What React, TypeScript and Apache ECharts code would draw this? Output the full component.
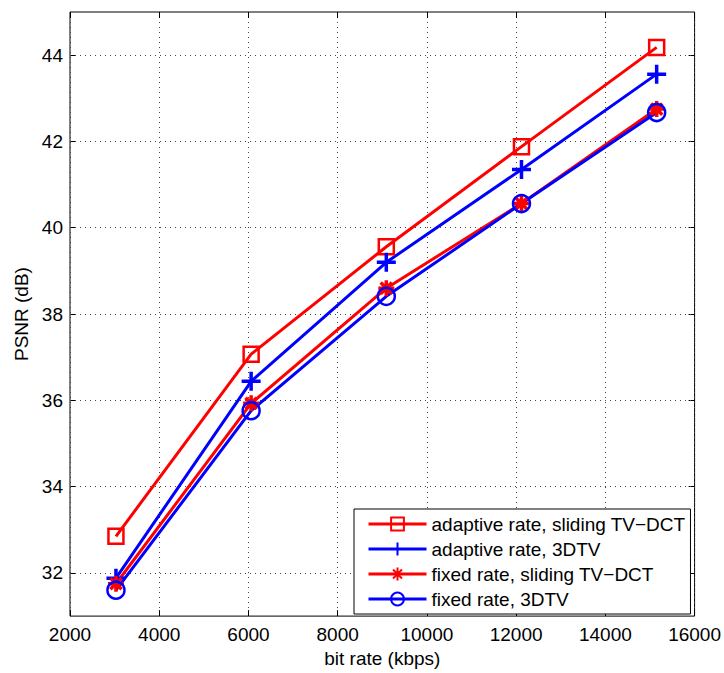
import React, { useEffect, useRef } from "react";
import * as echarts from "echarts";

const bitRates = [3030, 6060, 9090, 12120, 15150];
const adaptiveSliding = [32.85, 37.07, 39.56, 41.88, 44.18];
const adaptive3DTV = [31.88, 36.44, 39.2, 41.35, 43.56];
const fixedSliding = [31.75, 35.93, 38.6, 40.56, 42.75];
const fixed3DTV = [31.6, 35.76, 38.41, 40.56, 42.67];
const seriesNames = [
  "adaptive rate, sliding TV\u2212DCT",
  "adaptive rate, 3DTV",
  "fixed rate, sliding TV\u2212DCT",
  "fixed rate, 3DTV",
];
const yTicks = [32, 34, 36, 38, 40, 42, 44];

const PLUS = "path://M5,0L5,10M0,5L10,5";
const STAR = "path://M5,0L5,10M0,5L10,5M1.5,1.5L8.5,8.5M8.5,1.5L1.5,8.5";
const FONT = "Liberation Sans, Arial, Helvetica, sans-serif";

export default function App() {
  const ref = useRef<HTMLDivElement>(null);
  useEffect(() => {
    if (!ref.current) return;
    const chart = echarts.init(ref.current, null, { renderer: "svg" });
    const pair = (ys: number[]) => bitRates.map((x, i) => [x, ys[i]]);
    const mk = (
      name: string,
      ys: number[],
      color: string,
      symbol: string,
      size: number,
      bw: number
    ) => ({
      name,
      type: "line",
      data: pair(ys),
      symbol,
      symbolSize: size,
      showAllSymbol: true,
      lineStyle: { color, width: 3 },
      itemStyle: { color: "transparent", borderColor: color, borderWidth: bw },
      emphasis: { disabled: true },
      z: 3,
    });
    const axisTickStyle = { inside: true, length: 6, lineStyle: { color: "#000", width: 1 } };
    const labelStyle = { color: "#000", fontSize: 19, fontFamily: FONT };
    const series: any[] = [
      mk(seriesNames[0], adaptiveSliding, "#ff0000", "rect", 15, 2.5),
      mk(seriesNames[1], adaptive3DTV, "#0000ff", PLUS, 19, 3.5),
      mk(seriesNames[2], fixedSliding, "#ff0000", STAR, 16, 3.5),
      mk(seriesNames[3], fixed3DTV, "#0000ff", "circle", 17, 2.5),
    ];
    series[0].markLine = {
      silent: true,
      symbol: ["none", "none"],
      label: { show: false },
      lineStyle: { color: "#444", type: [1, 4], width: 1 },
      data: yTicks.map((v) => ({ yAxis: v })),
      z: 1,
    };
    chart.setOption({
      animation: false,
      backgroundColor: "#fff",
      grid: {
        left: 70,
        right: 27,
        top: 12,
        bottom: 54,
        show: true,
        borderColor: "#000",
        borderWidth: 1,
        backgroundColor: "transparent",
      },
      legend: {
        show: true,
        orient: "vertical",
        left: 354,
        top: 509,
        backgroundColor: "#fff",
        borderColor: "#000",
        borderWidth: 1,
        padding: [5, 5, 5, 13],
        itemWidth: 58,
        itemHeight: 16,
        itemGap: 5,
        selectedMode: false,
        lineStyle: { width: 3 },
        textStyle: { color: "#000", fontSize: 19, fontFamily: FONT, lineHeight: 20 },
        data: seriesNames,
      },
      xAxis: [
        {
          type: "value",
          min: 2000,
          max: 16000,
          interval: 2000,
          name: "bit rate (kbps)",
          nameLocation: "middle",
          nameGap: 32,
          nameTextStyle: { ...labelStyle, verticalAlign: "top" },
          axisLine: { show: false },
          axisTick: axisTickStyle,
          axisLabel: { ...labelStyle, margin: 9, formatter: (v: number) => String(v) },
          splitLine: { show: true, lineStyle: { color: "#444", type: [1, 4], width: 1 } },
        },
        {
          type: "value",
          position: "top",
          min: 2000,
          max: 16000,
          interval: 2000,
          axisLine: { show: false },
          axisTick: axisTickStyle,
          axisLabel: { show: false },
          splitLine: { show: false },
        },
      ],
      yAxis: [
        {
          type: "value",
          min: 31,
          max: 45,
          name: "PSNR (dB)",
          nameLocation: "middle",
          nameGap: 37,
          nameTextStyle: labelStyle,
          axisLine: { show: false },
          axisTick: { ...axisTickStyle, customValues: yTicks },
          axisLabel: { ...labelStyle, margin: 7, customValues: yTicks },
          splitLine: { show: false },
        },
        {
          type: "value",
          position: "right",
          min: 31,
          max: 45,
          axisLine: { show: false },
          axisTick: { ...axisTickStyle, customValues: yTicks },
          axisLabel: { show: false, customValues: yTicks },
          splitLine: { show: false },
        },
      ],
      series,
    });
    return () => chart.dispose();
  }, []);
  return (
    <div
      ref={ref}
      style={{ position: "absolute", left: 0, top: 0, width: 724, height: 673, background: "#fff" }}
    />
  );
}
